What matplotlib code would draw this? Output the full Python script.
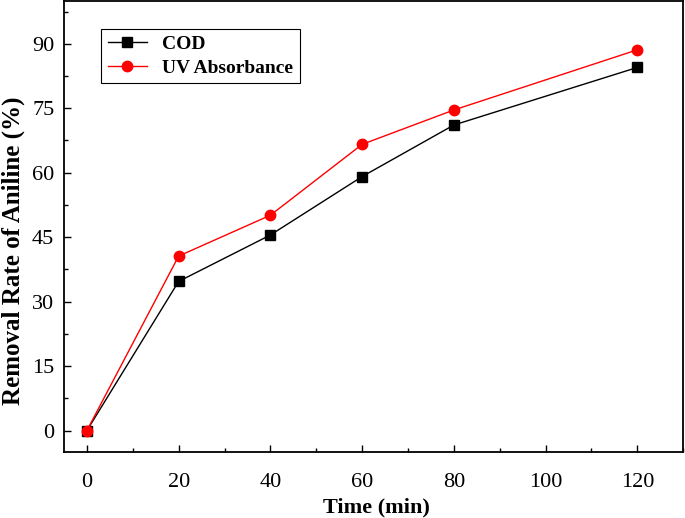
import matplotlib
matplotlib.use('Agg')
import matplotlib.pyplot as plt
from matplotlib.ticker import MultipleLocator

plt.rcParams['font.family'] = ['Liberation Serif', 'DejaVu Serif']

time_min = [0, 20, 40, 60, 80, 120]
cod = [0, 34.7, 45.5, 59.1, 71.1, 84.5]
uv_abs = [0, 40.6, 50.1, 66.6, 74.6, 88.6]

fig = plt.figure(figsize=(6.85, 5.18), dpi=100)
ax = fig.add_axes([0.0934, 0.1274, 0.904, 0.871])

ax.plot(time_min, cod, color='black', lw=1, marker='s', ms=6.5, label='COD')
ax.plot(time_min, uv_abs, color='red', lw=1, marker='o', ms=7.5, label='UV Absorbance')

ax.set_xlim(-5, 130)
ax.set_ylim(-5, 100)
ax.xaxis.set_major_locator(MultipleLocator(20))
ax.xaxis.set_minor_locator(MultipleLocator(10))
ax.yaxis.set_major_locator(MultipleLocator(15))
ax.yaxis.set_minor_locator(MultipleLocator(7.5))
ax.tick_params(which='both', direction='in', labelsize=16, width=1)
ax.tick_params(which='major', length=5)
ax.tick_params(which='minor', length=3)
ax.tick_params(axis='x', which='major', pad=15)
ax.tick_params(axis='y', which='major', pad=7)
for s in ax.spines.values():
    s.set_linewidth(1.3)

ax.set_xlabel('Time (min)', fontsize=16, fontweight='bold', va='center')
ax.xaxis.set_label_coords(0.505, -0.124)
ax.set_ylabel('Removal Rate of Aniline (%)', fontsize=18, fontweight='bold', va='center')
ax.yaxis.set_label_coords(-0.0816, 0.446)

leg = ax.legend(loc='upper left', bbox_to_anchor=(0.06, 0.938), borderaxespad=0,
                fancybox=False, edgecolor='black', framealpha=1, borderpad=0.35,
                handlelength=2, labelspacing=0.3, prop={'weight': 'bold', 'size': 14})
leg.get_frame().set_linewidth(0.8)

fig.savefig('out.png', dpi=100)
